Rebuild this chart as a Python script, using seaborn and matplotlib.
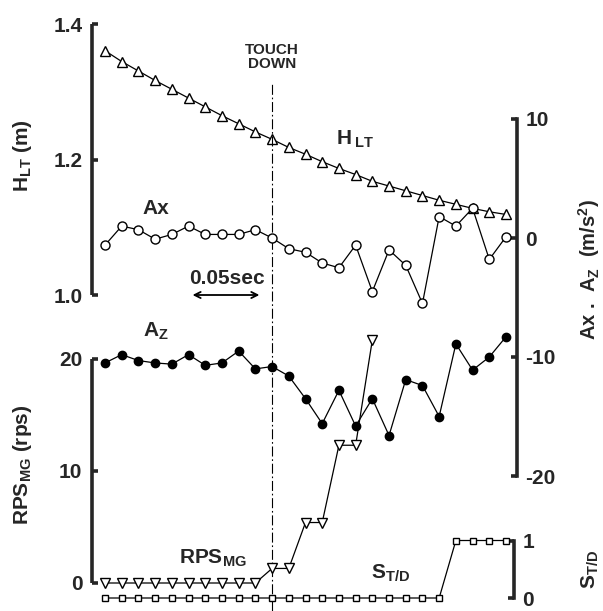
import numpy as np
import matplotlib
matplotlib.use("Agg")
import matplotlib.pyplot as plt
import seaborn as sns

# Frame numbers (12.5 ms per frame); touch-down happens at frame 10
frames = list(range(25))
touchdown_frame = 10
frame_dt = 0.0125

# Height of the lower trunk (m)
h_lt = [1.361, 1.345, 1.331, 1.317, 1.304, 1.291, 1.278, 1.265, 1.253, 1.241,
        1.230, 1.218, 1.208, 1.197, 1.187, 1.178, 1.168, 1.161, 1.154, 1.147,
        1.140, 1.134, 1.128, 1.123, 1.119]
# Horizontal / vertical acceleration (m/s^2)
a_x = [-0.6, 1.0, 0.7, -0.1, 0.3, 1.0, 0.3, 0.3, 0.3, 0.7,
       0.0, -0.9, -1.2, -2.1, -2.5, -0.6, -4.5, -1.0, -2.3, -5.5,
       1.8, 1.0, 2.5, -1.8, 0.1]
a_z = [-10.5, -9.8, -10.3, -10.5, -10.6, -9.8, -10.7, -10.5, -9.5, -11.0,
       -10.8, -11.6, -13.5, -15.6, -12.8, -15.8, -13.5, -16.6, -11.9, -12.4,
       -15.0, -8.9, -11.1, -10.0, -8.3]
# Main-gear wheel speed (rps), recorded up to frame 16
rps_mg = [0, 0, 0, 0, 0, 0, 0, 0, 0, 0,
          1.3, 1.3, 5.4, 5.4, 12.3, 12.3, 21.7]
# Touch-down switch
s_td = [0, 0, 0, 0, 0, 0, 0, 0, 0, 0,
        0, 0, 0, 0, 0, 0, 0, 0, 0, 0,
        0, 1, 1, 1, 1]

t = (np.array(frames) - touchdown_frame) * frame_dt
t_rps = t[:len(rps_mg)]

sns.set_style("white")
plt.rcParams["font.family"] = ["Liberation Sans", "DejaVu Sans"]
plt.rcParams["font.weight"] = "bold"
plt.rcParams["mathtext.fontset"] = "custom"
plt.rcParams["mathtext.rm"] = "Liberation Sans:bold"
plt.rcParams["mathtext.bf"] = "Liberation Sans:bold"
plt.rcParams["mathtext.it"] = "Liberation Sans:bold"
plt.rcParams["mathtext.sf"] = "Liberation Sans:bold"

W, H = 603, 611
fig = plt.figure(figsize=(W / 100, H / 100), dpi=100)
fig.patch.set_facecolor("white")

x_left_px, x_right_px = 92, 517
rect = [x_left_px / W, 0.0, (x_right_px - x_left_px) / W, 1.0]

# time axis: frame 0 sits at 105 px, frame 24 at 506 px
px_per_frame = (506 - 105) / 24
xlim = ((-(105 - x_left_px) / px_per_frame - touchdown_frame) * frame_dt,
        ((x_right_px - 105) / px_per_frame - touchdown_frame) * frame_dt)


def ylim_from(v_a, y_a, v_b, y_b):
    """Limits so that value v_a sits y_a px and v_b sits y_b px below the top."""
    per_px = (v_a - v_b) / (y_b - y_a)
    return v_a - per_px * (H - y_a), v_a + per_px * y_a


def layer(name):
    ax = fig.add_axes(rect, label=name)
    ax.set_facecolor("none")
    return ax


def finish(ax, ylim):
    ax.set_xlim(xlim)
    ax.set_ylim(ylim)
    ax.set_xticks([])
    ax.set_xlabel("")
    ax.set_ylabel("")
    for s in ax.spines.values():
        s.set_visible(False)


SPW = 2.6
LW = 0.9
TICK_FS = 15

ax_h = layer("hlt")
ax_r = layer("rps")
ax_a = layer("acc")
ax_s = layer("std")

line_kw = dict(color="black", linewidth=LW, markeredgecolor="black",
               markeredgewidth=1.0, legend=False)

sns.lineplot(x=t, y=h_lt, ax=ax_h, marker="^", markersize=7,
             markerfacecolor="white", **line_kw)
sns.lineplot(x=t_rps, y=rps_mg, ax=ax_r, marker="v", markersize=7,
             markerfacecolor="white", **line_kw)
sns.lineplot(x=t, y=a_x, ax=ax_a, marker="o", markersize=6.5,
             markerfacecolor="white", **line_kw)
sns.lineplot(x=t, y=a_z, ax=ax_a, marker="o", markersize=6,
             markerfacecolor="black", **line_kw)
sns.lineplot(x=t, y=s_td, ax=ax_s, marker="s", markersize=5,
             markerfacecolor="white", **line_kw)

finish(ax_h, ylim_from(1.4, 24.3, 1.0, 295))
finish(ax_r, ylim_from(20, 359, 0, 583))
finish(ax_a, ylim_from(0, 238, -20, 476))
finish(ax_s, ylim_from(1, 540.5, 0, 598))

# left axes
for ax, lo, hi, ticks, labels in [
        (ax_h, 1.0, 1.4, [1.0, 1.2, 1.4], ["1.0", "1.2", "1.4"]),
        (ax_r, 0, 20, [0, 10, 20], ["0", "10", "20"])]:
    sp = ax.spines["left"]
    sp.set_visible(True)
    sp.set_bounds(lo, hi)
    sp.set_linewidth(SPW)
    sp.set_capstyle("butt")
    ax.set_yticks(ticks)
    ax.set_yticklabels(labels, fontsize=TICK_FS, fontweight="bold")
    ax.tick_params(axis="y", left=True, right=False, direction="in",
                   length=4, width=SPW, pad=7)

# right axes
for ax, lo, hi, ticks, labels, pos in [
        (ax_a, -20, 10, [-20, -10, 0, 10], ["-20", "-10", "0", "10"], 1.0),
        (ax_s, 0, 1, [0, 1], ["0", "1"], (514 - x_left_px) / (x_right_px - x_left_px))]:
    sp = ax.spines["right"]
    sp.set_visible(True)
    sp.set_bounds(lo, hi)
    sp.set_linewidth(SPW)
    sp.set_position(("axes", pos))
    ax.yaxis.tick_right()
    ax.set_yticks(ticks)
    ax.set_yticklabels(labels, fontsize=TICK_FS, fontweight="bold")
    ax.tick_params(axis="y", left=False, right=True, direction="in",
                   length=4, width=SPW, pad=6)

# touch-down marker line
ax_h.axvline(0.0, ymin=0.0, ymax=(H - 83) / H, color="black", linewidth=0.8,
             linestyle=(0, (9, 2.5, 1.5, 2.5)))

# 0.05 s scale bar
ax_h.annotate("", xy=(-0.0095, 1.0), xytext=(-0.0595, 1.0),
              arrowprops=dict(arrowstyle="<->", color="black", lw=1.3,
                              shrinkA=0, shrinkB=0, mutation_scale=11))
ax_h.text(-0.0335, 1.0245, "0.05sec", ha="center", va="center",
          fontsize=15, fontweight="bold")


def ftext(x, y, s, **kw):
    kw.setdefault("ha", "center")
    kw.setdefault("va", "center")
    kw.setdefault("fontweight", "bold")
    fig.text(x / W, 1 - y / H, s, **kw)


ftext(272, 57, "TOUCH\nDOWN", fontsize=11, linespacing=1.0)
ftext(355, 139, r"$\mathrm{H\,_{LT}}$", fontsize=15)
ftext(156, 208, "Ax", fontsize=15)
ftext(156, 331, r"$\mathrm{A_Z}$", fontsize=15)
ftext(213, 558, r"$\mathrm{RPS_{MG}}$", fontsize=15)
ftext(391, 573, r"$\mathrm{S_{T/D}}$", fontsize=15)

ftext(23, 156, r"$\mathrm{H_{LT}}$ (m)", fontsize=15, rotation=90)
ftext(23, 465, r"$\mathrm{RPS_{MG}}$ (rps)", fontsize=15, rotation=90)
ftext(589, 270, r"Ax .  $\mathrm{A_Z}$  (m/s$^\mathrm{2}$)", fontsize=14.5,
      rotation=90)
ftext(590, 569, r"$\mathrm{S_{T/D}}$", fontsize=15, rotation=90)

fig.savefig("out.png", dpi=100, facecolor="white")
